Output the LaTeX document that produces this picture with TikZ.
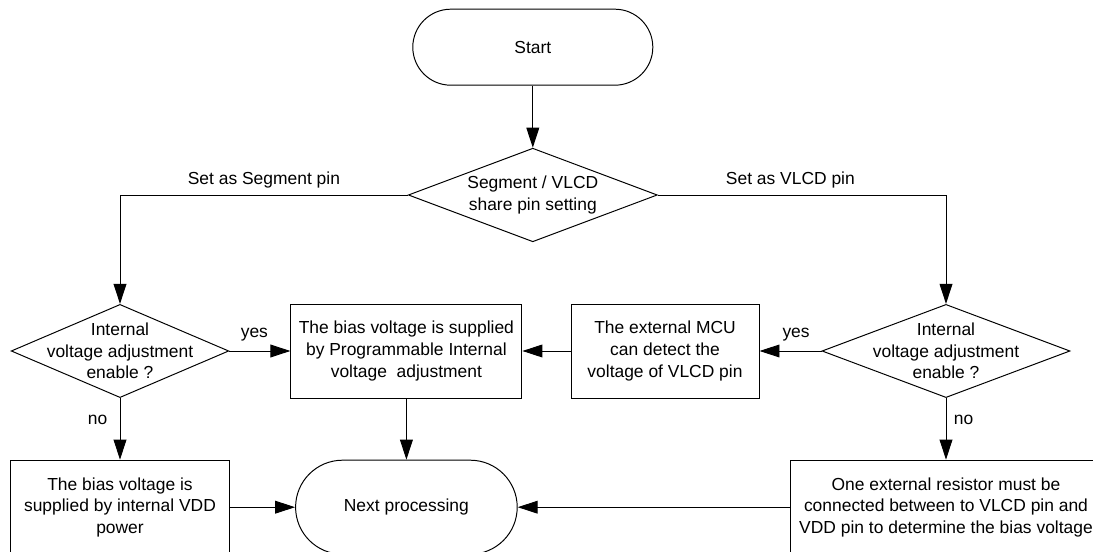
\documentclass[tikz,border=0pt]{standalone}
\usepackage{fontspec}
\setmainfont{Liberation Sans}
\usetikzlibrary{shapes,arrows,positioning,arrows.meta}

\begin{document}
\begin{tikzpicture}[
    font=\fontsize{12.4}{15.3}\selectfont,
    line width=0.7pt,
    flow/.style={-{Triangle[length=0.5cm,width=0.32cm]}},
    terminal/.style={draw, rounded rectangle, minimum height=1.9cm},
    process/.style={draw, rectangle, align=center, minimum height=2.35cm},
    decision/.style={draw, diamond, inner sep=0pt, minimum height=2.33cm},
]
    \useasboundingbox (0,0) rectangle (27.325,13.8);

    % Start and share pin setting
    \node[terminal, minimum width=6.235cm] (start) at (13.32, 12.62) {Start};
    \node[decision, minimum width=6.225cm, minimum height=2.34cm,
          label={[align=center]center:{Segment / VLCD\\share pin setting}}] (share) at (13.32, 8.925) {};

    % Middle row
    \node[decision, minimum width=5.44cm,
          label={[align=center]center:{Internal\\voltage adjustment\\enable ?}}] (adjL) at (3.0, 5.025) {};
    \node[process, minimum width=5.775cm] (progbias) at (10.16, 5.025)
        {The bias voltage is supplied\\by Programmable Internal\\voltage\ \ adjustment};
    \node[process, minimum width=4.7cm] (mcu) at (16.625, 5.025)
        {The external MCU\\can detect the\\voltage of VLCD pin};
    \node[decision, minimum width=6.2cm,
          label={[align=center]center:{Internal\\voltage adjustment\\enable ?}}] (adjR) at (23.65, 5.025) {};

    % Bottom row
    \node[process, minimum width=5.46cm] (vddbias) at (3.0, 1.12)
        {The bias voltage is\\supplied by internal VDD\\power};
    \node[terminal, minimum width=5.775cm, minimum height=2.35cm] (next) at (10.16, 1.12) {Next processing};
    \node[process, minimum width=7.8cm] (resistor) at (23.65, 1.12)
        {One external resistor must be\\connected between to VLCD pin and\\VDD pin to determine the bias voltage};

    % Connectors
    \draw[flow] (start.south) -- (share.north);
    \draw[flow] (share.west) -| node[pos=0.25, above=1.5pt] {Set as Segment pin} (adjL.north);
    \draw[flow] (share.east) -| node[pos=0.23, above=1.5pt] {Set as VLCD pin} (adjR.north);

    \draw[flow] (adjL.east) -- node[pos=0.41, above=3pt] {yes} (progbias.west);
    \draw[flow] (adjL.south) -- node[pos=0.36, left=5.3pt] {no} (vddbias.north);
    \draw[flow] (adjR.west) -- node[pos=0.41, above=3pt] {yes} (mcu.east);
    \draw[flow] (adjR.south) -- node[pos=0.36, right=2pt] {no} (resistor.north);
    \draw[flow] (mcu.west) -- (progbias.east);

    \draw[flow] (progbias.south) -- (next.north);
    \draw[flow] (vddbias.east) -- (next.west);
    \draw[flow] (resistor.west) -- (next.east);
\end{tikzpicture}
\end{document}
